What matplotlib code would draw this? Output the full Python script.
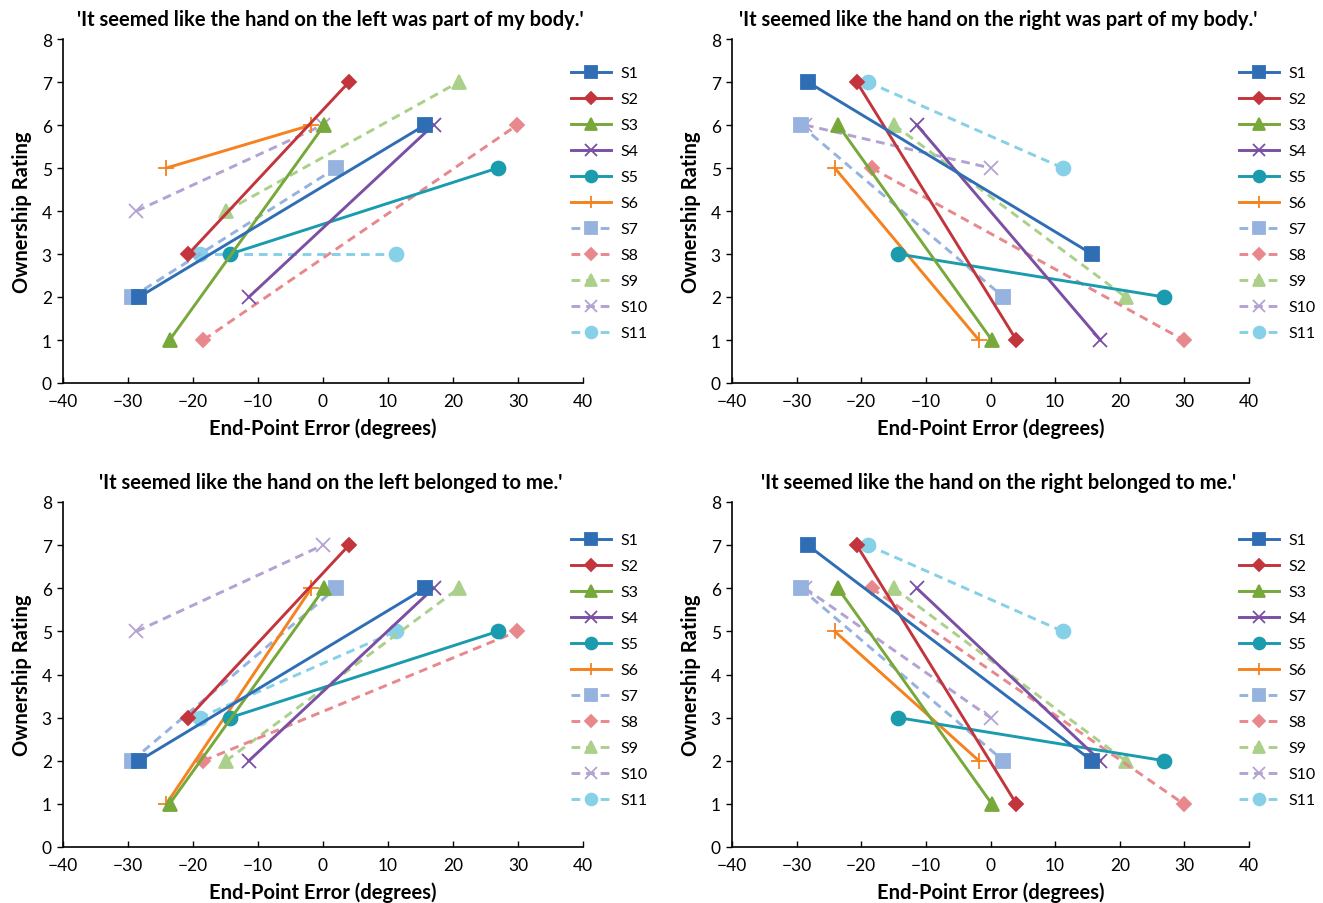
import matplotlib
matplotlib.use("Agg")
import matplotlib.pyplot as plt

plt.rcParams.update({
    "font.family": ["Lato", "DejaVu Sans"],
    "axes.linewidth": 1.2,
    "xtick.major.width": 1.0,
    "ytick.major.width": 1.0,
})

subjects = ["S1", "S2", "S3", "S4", "S5", "S6", "S7", "S8", "S9", "S10", "S11"]

# end-point error (degrees) for each subject's two points
err_1 = [-28.3, -20.7, -23.6, -11.4, -14.3, -24.1, -29.4, -18.4, -14.9, -28.7, -19.0]
err_2 = [15.7, 4.0, 0.2, 17.0, 26.9, -1.8, 2.0, 29.9, 20.9, 0.0, 11.2]

# ownership ratings at err_1 / err_2
body_left_1 = [2, 3, 1, 2, 3, 5, 2, 1, 4, 4, 3]
body_left_2 = [6, 7, 6, 6, 5, 6, 5, 6, 7, 6, 3]
body_right_1 = [7, 7, 6, 6, 3, 5, 6, 5, 6, 6, 7]
body_right_2 = [3, 1, 1, 1, 2, 1, 2, 1, 2, 5, 5]
belong_left_1 = [2, 3, 1, 2, 3, 1, 2, 2, 2, 5, 3]
belong_left_2 = [6, 7, 6, 6, 5, 6, 6, 5, 6, 7, 5]
belong_right_1 = [7, 7, 6, 6, 3, 5, 6, 6, 6, 6, 7]
belong_right_2 = [2, 1, 1, 2, 2, 2, 2, 1, 2, 3, 5]

titles = [
    "'It seemed like the hand on the left was part of my body.'",
    "'It seemed like the hand on the right was part of my body.'",
    "'It seemed like the hand on the left belonged to me.'",
    "'It seemed like the hand on the right belonged to me.'",
]

COLORS = ["#2F6EB5", "#C3343C", "#77A83A", "#7B4FA3", "#1A9BAE", "#F5821F",
          "#95B3DE", "#E8888C", "#AAD08A", "#B3A2D2", "#86D0E8"]
MARKERS = ["s", "D", "^", "x", "o", "+", "s", "D", "^", "x", "o"]
MSIZE = [10, 7, 10, 10, 10, 11, 10, 7, 10, 10, 10]

W, H = 1323, 904


def px_rect(left, top, right, bottom):
    return [left / W, 1 - bottom / H, (right - left) / W, (bottom - top) / H]


def panel(fig, rect, r1, r2, title, leg_xy):
    ax = fig.add_axes(rect)
    for i, s in enumerate(subjects):
        ln, = ax.plot([err_1[i], err_2[i]], [r1[i], r2[i]], color=COLORS[i], lw=2.1,
                      marker=MARKERS[i], markersize=MSIZE[i], markeredgewidth=1.3,
                      label=s, zorder=3 + (11 - i) * 0.01)
        if i >= 6:
            ln.set_dashes((3.0, 2.0))
    ax.set_xlim(-40, 40)
    ax.set_ylim(0, 8)
    ax.set_xticks(range(-40, 41, 10))
    ax.set_yticks(range(0, 9))
    ax.tick_params(axis="x", direction="in", length=4, labelsize=12.5, pad=7)
    ax.tick_params(axis="y", direction="out", length=4, labelsize=12.5, pad=4)
    for s in ("top", "right"):
        ax.spines[s].set_visible(False)
    ax.set_xlabel("End-Point Error (degrees)", fontsize=14.5, fontweight="bold", labelpad=6)
    ax.set_ylabel("Ownership Rating", fontsize=14.5, fontweight="bold", labelpad=7)
    ax.set_title(title, fontsize=14.5, fontweight="bold", pad=10, x=0.515)
    ax.legend(loc="upper left", bbox_to_anchor=(leg_xy[0] / W, 1 - leg_xy[1] / H),
              bbox_transform=fig.transFigure, frameon=False, fontsize=11.5,
              handlelength=2.5, handletextpad=0.6, labelspacing=0.74,
              borderaxespad=0, borderpad=0, markerscale=0.85)
    return ax


fig = plt.figure(figsize=(W / 100, H / 100), dpi=100)
fig.patch.set_facecolor("white")

panel(fig, px_rect(63, 40, 583, 384), body_left_1, body_left_2, titles[0], (571, 67))
panel(fig, px_rect(732, 40, 1249, 384), body_right_1, body_right_2, titles[1], (1239, 67))
panel(fig, px_rect(63, 503, 583, 848), belong_left_1, belong_left_2, titles[2], (571, 534))
panel(fig, px_rect(732, 503, 1249, 848), belong_right_1, belong_right_2, titles[3], (1239, 534))

fig.savefig("out.png", dpi=100, facecolor="white")
